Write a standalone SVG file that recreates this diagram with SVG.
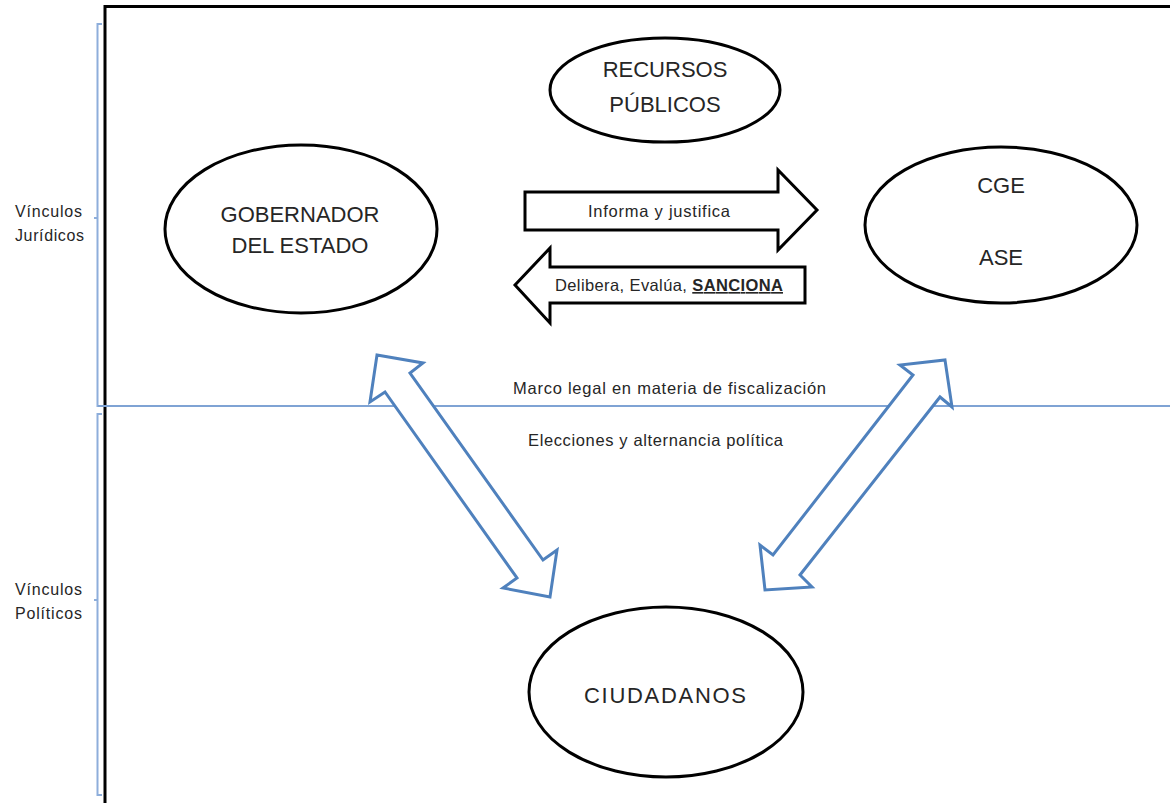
<svg xmlns="http://www.w3.org/2000/svg" width="1170" height="803" viewBox="0 0 1170 803">
<style>
.node{fill:#fff;stroke:#000;stroke-width:3}
.big{font-family:"Liberation Sans",Arial,sans-serif;font-size:22px;fill:#262626;text-anchor:middle}
.small{font-family:"Liberation Sans",Arial,sans-serif;font-size:16.5px;fill:#262626}
.side{font-family:"Liberation Sans",Arial,sans-serif;font-size:16px;fill:#262626}
.blk{fill:#fff;stroke:#000;stroke-width:3;stroke-linejoin:miter}
.blue{fill:#fff;stroke:#4f81bd;stroke-width:3;stroke-linejoin:miter}
.guide{fill:none;stroke:#8eaedb;stroke-width:2}
</style>
<rect width="1170" height="803" fill="#fff"/>
<g id="frame">
<path d="M105,803 V6.5 H1170" fill="none" stroke="#000" stroke-width="3"/>
</g>
<g id="brackets">
<path class="guide" d="M102,24 H97.5 V218 H94 M97.5,218 V406 H102"/>
<path class="guide" d="M102,414 H97.5 V600 H94 M97.5,600 V795 H102"/>
<line x1="98" y1="406" x2="1170" y2="406" stroke="#7fa3d4" stroke-width="1.8"/>
<text class="side" x="15" y="217" textLength="67">Vínculos</text>
<text class="side" x="15" y="241" textLength="69">Jurídicos</text>
<text class="side" x="15" y="595" textLength="67">Vínculos</text>
<text class="side" x="15" y="619" textLength="67">Políticos</text>
</g>
<g id="labels">
<text class="small" x="513" y="394" textLength="313">Marco legal en materia de fiscalización</text>
<text class="small" x="528" y="446" textLength="255">Elecciones y alternancia política</text>
</g>
<g id="connectors">
<path class="blk" d="M525,192 H778 V170 L817,210 L778,250 V230 H525 Z"/>
<path class="blk" d="M805,267 H550 V248 L515,285 L550,323 V303 H805 Z"/>
<path class="blue" d="M377,355 L423,363 L410,373 L543,560 L557,550 L550,597 L503,588 L517,578 L385,392 L370,402 Z"/>
<path class="blue" d="M945,360 L952,407 L940,397 L800,575 L812,587 L765,590 L760,545 L773,555 L913,375 L900,365 Z"/>
<text class="small" x="588" y="217" textLength="142">Informa y justifica</text>
<text class="small" x="555" y="291" textLength="228">Delibera, Evalúa, <tspan font-weight="bold" text-decoration="underline">SANCIONA</tspan></text>
</g>
<g id="recursos">
<ellipse class="node" cx="665" cy="90" rx="115" ry="52"/>
<text class="big" x="665" y="77">RECURSOS</text>
<text class="big" x="665" y="112">PÚBLICOS</text>
</g>
<g id="gobernador">
<ellipse class="node" cx="301" cy="229" rx="136" ry="84"/>
<text class="big" x="300" y="222">GOBERNADOR</text>
<text class="big" x="300" y="253">DEL ESTADO</text>
</g>
<g id="cge">
<ellipse class="node" cx="1001" cy="225" rx="136" ry="78"/>
<text class="big" x="1001" y="193">CGE</text>
<text class="big" x="1001" y="265">ASE</text>
</g>
<g id="ciudadanos">
<ellipse class="node" cx="666" cy="692" rx="137" ry="85"/>
<text class="big" x="665" y="703" textLength="162">CIUDADANOS</text>
</g>
</svg>
